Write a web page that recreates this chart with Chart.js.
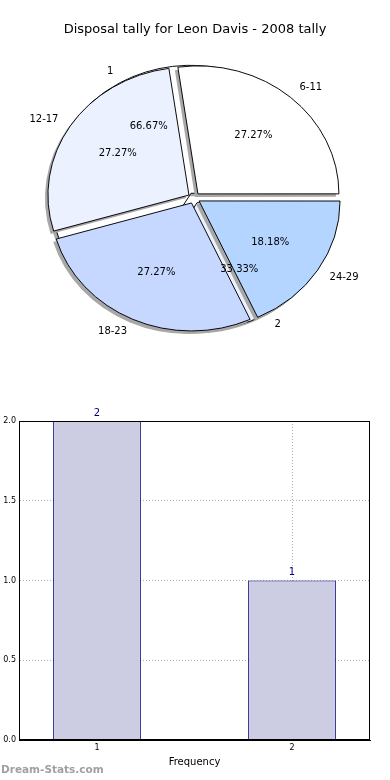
<!DOCTYPE html>
<html>
<head>
<meta charset="utf-8">
<script src="https://cdn.jsdelivr.net/npm/chart.js@4.4.0/dist/chart.umd.min.js"></script>
<style>
body { margin:0; background:#fff; width:390px; height:780px; position:relative; overflow:hidden; font-family:"DejaVu Sans", sans-serif; }
#pieBack, #pieFront { position:absolute; left:0; top:0; }
#barCanvas { position:absolute; left:0; top:400px; }
#title { position:absolute; top:21px; left:0; width:390px; text-align:center; font-size:13px; color:#000; }
#mark { position:absolute; left:1px; top:763px; font-size:10.5px; font-weight:bold; color:#a0a0a0; }
</style>
</head>
<body>
<canvas id="pieBack" width="390" height="400"></canvas>
<canvas id="pieFront" width="390" height="400"></canvas>
<div id="title">Disposal tally for Leon Davis - 2008 tally</div>
<canvas id="barCanvas" width="390" height="380"></canvas>
<div id="mark">Dream-Stats.com</div>
<script>
// data
var ageGroups = ['6-11', '12-17', '18-23', '24-29'];
var ageTally = [3, 3, 3, 2];
var ageColors = ['#ffffff', '#ebf1ff', '#c6d8ff', '#b4d5ff'];

var tallyGroups = ['1', '2'];
var tallyCount = [2, 1];
var tallyColors = ['#ffffff', '#ebf1ff'];

var barCats = [1, 2];
var barValues = [2, 1];
var yTicks = [0, 0.5, 1, 1.5, 2];

var squashY = 128 / 141;   // pie is drawn as an ellipse
var explode = 24;          // chart.js moves an arc by offset/4 px

// matplotlib goes counter clockwise from 3 o'clock, chart.js clockwise -> reverse
function rev(a) { return a.slice().reverse(); }

// squash the pie to an ellipse and paint a flat shadow under the wedges first
var squash = {
	id: 'squash',
	beforeDatasetsDraw: function(chart) {
		var ctx = chart.ctx;
		var cy = (chart.chartArea.top + chart.chartArea.bottom) / 2;
		var arcs = chart.getDatasetMeta(0).data;
		// chart.js grows the radius of exploded arcs, matplotlib keeps it
		arcs.forEach(function(arc) {
			var fix = 1 - Math.sin(Math.min(Math.PI, arc.circumference));
			arc._keepR = arc.outerRadius;
			arc.outerRadius = arc.outerRadius - arc.options.offset / 4 * fix;
		});
		ctx.save();
		ctx.translate(0, cy);
		ctx.scale(1, squashY);
		ctx.translate(0, -cy);

		ctx.save();
		ctx.translate(-3, 3 / squashY);
		arcs.forEach(function(arc) {
			var keep = arc.options;
			arc.options = Object.assign({}, keep, { backgroundColor: '#a8a8a8', borderWidth: 0 });
			arc.draw(ctx);
			arc.options = keep;
		});
		ctx.restore();
	},
	afterDatasetsDraw: function(chart) {
		chart.ctx.restore();
		chart.getDatasetMeta(0).data.forEach(function(arc) { arc.outerRadius = arc._keepR; });
	}
};

function pieOptions() {
	return {
		responsive: false,
		animation: false,
		events: [],
		rotation: 90,
		radius: 141,
		layout: { padding: { left: 0, right: 2, top: 0, bottom: 4 } },
		plugins: { legend: { display: false }, tooltip: { enabled: false } }
	};
}

var backChart = new Chart(document.getElementById('pieBack'), {
	type: 'pie',
	data: {
		labels: rev(tallyGroups),
		datasets: [{ data: rev(tallyCount), backgroundColor: rev(tallyColors), borderColor: '#000', borderWidth: 1, borderJoinStyle: 'miter', offset: explode }]
	},
	options: pieOptions(),
	plugins: [squash]
});

// labels of both pies go on the front canvas so they sit above all wedges
var pieLabels = {
	id: 'pieLabels',
	afterDraw: function(chart) {
		var ctx = chart.ctx;
		ctx.save();
		ctx.font = '10px "DejaVu Sans"';
		ctx.fillStyle = '#000';
		ctx.textBaseline = 'middle';
		[backChart, chart].forEach(function(c) {
			var meta = c.getDatasetMeta(0);
			var vals = c.data.datasets[0].data;
			var total = vals.reduce(function(a, b) { return a + b; }, 0);
			var cx = (c.chartArea.left + c.chartArea.right) / 2;
			var cy = (c.chartArea.top + c.chartArea.bottom) / 2;
			meta.data.forEach(function(arc, i) {
				var mid = (arc.startAngle + arc.endAngle) / 2;
				var off = arc.options.offset / 4;
				var r = arc.outerRadius;
				var cs = Math.cos(mid), sn = Math.sin(mid);
				var lx = cx + cs * (r * 1.1 + off);
				var ly = cy + sn * (r * 1.1 + off) * squashY;
				ctx.textAlign = cs > 0 ? 'left' : 'right';
				ctx.fillText(c.data.labels[i], lx, ly);
				var px = cx + cs * (r * 0.6 + off);
				var py = cy + sn * (r * 0.6 + off) * squashY;
				ctx.textAlign = 'center';
				ctx.fillText((vals[i] / total * 100).toFixed(2) + '%', px, py);
			});
		});
		ctx.restore();
	}
};

new Chart(document.getElementById('pieFront'), {
	type: 'pie',
	data: {
		labels: rev(ageGroups),
		datasets: [{ data: rev(ageTally), backgroundColor: rev(ageColors), borderColor: '#000', borderWidth: 1, borderJoinStyle: 'miter', offset: explode }]
	},
	options: pieOptions(),
	plugins: [squash, pieLabels]
});

// bar chart ----------------------------------
var barExtras = {
	id: 'barExtras',
	afterDraw: function(chart) {
		var ctx = chart.ctx;
		var a = chart.chartArea;
		ctx.save();
		ctx.strokeStyle = '#000';
		ctx.lineWidth = 1;
		ctx.strokeRect(a.left + 0.5, a.top + 0.5, a.right - a.left - 1, a.bottom - a.top - 1);
		ctx.font = '10px "DejaVu Sans"';
		ctx.fillStyle = '#000080';
		ctx.textAlign = 'center';
		ctx.textBaseline = 'bottom';
		chart.getDatasetMeta(0).data.forEach(function(bar, i) {
			ctx.fillText(String(barValues[i]), bar.x, bar.y - 3);
		});
		ctx.restore();
	}
};

new Chart(document.getElementById('barCanvas'), {
	type: 'bar',
	data: {
		datasets: [{
			data: barCats.map(function(c, i) { return { x: c, y: barValues[i] }; }),
			backgroundColor: '#ccccE3',
			borderColor: '#000080',
			borderWidth: 1,
			barPercentage: 0.45,
			categoryPercentage: 1
		}]
	},
	options: {
		responsive: false,
		animation: false,
		events: [],
		layout: { padding: { top: 21, right: 20, left: 0, bottom: 12 } },
		plugins: { legend: { display: false }, tooltip: { enabled: false } },
		scales: {
			x: {
				type: 'linear', min: 0.6, max: 2.4, offset: false, z: 1,
				afterBuildTicks: function(s) { s.ticks = barCats.map(function(v) { return { value: v }; }); },
				afterFit: function(s) { s.height = 28; },
				ticks: { font: { size: 8, family: 'DejaVu Sans' }, color: '#000', padding: 3 },
				grid: { color: '#b0b0b0', drawTicks: false, offset: false },
				border: { color: '#000', dash: [1, 2] },
				title: { display: true, text: 'Frequency', font: { size: 10, family: 'DejaVu Sans' }, color: '#000', padding: { top: 3, bottom: 0 } }
			},
			y: {
				min: 0, max: 2, z: 1,
				afterBuildTicks: function(s) { s.ticks = yTicks.map(function(v) { return { value: v }; }); },
				afterFit: function(s) { s.width = 19; },
				ticks: { font: { size: 8, family: 'DejaVu Sans' }, color: '#000', padding: 3, callback: function(v) { return v.toFixed(1); } },
				grid: { color: '#b0b0b0', drawTicks: false },
				border: { color: '#000', dash: [1, 2] }
			}
		}
	},
	plugins: [barExtras]
});
</script>
</body>
</html>
